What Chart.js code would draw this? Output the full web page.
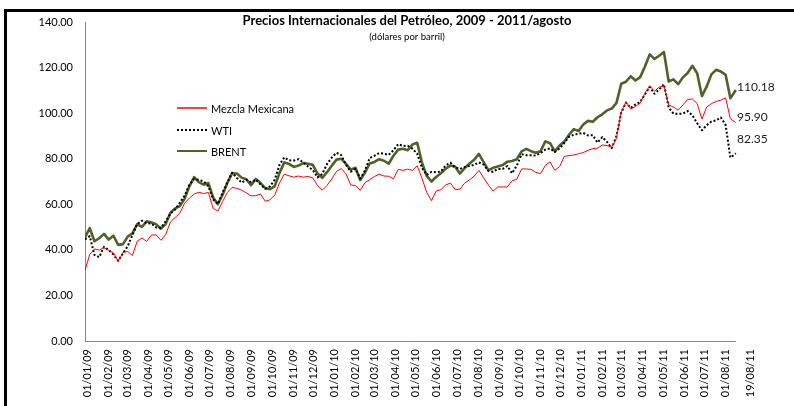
<!DOCTYPE html>
<html lang="es">
<head>
  <meta charset="UTF-8">
  <title>Precios Internacionales del Petróleo</title>
  <script src="https://cdn.jsdelivr.net/npm/chart.js"></script>
  <style>
    body {
      margin: 0;
      background: #ffffff;
      overflow: hidden;
    }
    .wrap {
      position: relative;
      width: 794px;
      height: 406px;
    }
    canvas {
      position: absolute;
      left: 0;
      top: 0;
    }
    /* black frame edges on top and left, as in the original */
    .edge-top {
      position: absolute;
      left: 4px;
      top: 9px;
      width: 790px;
      height: 3px;
      background: #000;
    }
    .edge-left {
      position: absolute;
      left: 4px;
      top: 9px;
      width: 3px;
      height: 397px;
      background: #000;
    }
  </style>
</head>
<body>
  <div class="wrap">
    <canvas id="chart" width="794" height="406"></canvas>
    <div class="edge-top"></div>
    <div class="edge-left"></div>
  </div>

  <script>
    // days since 01/01/09, one point a week (last one is 19/08/11)
    const dias = [0,7,14,21,28,35,42,49,56,63,70,77,84,91,98,105,112,119,126,133,
      140,147,154,161,168,175,182,189,196,203,210,217,224,231,238,245,252,259,266,273,
      280,287,294,301,308,315,322,329,336,343,350,357,364,371,378,385,392,399,406,413,
      420,427,434,441,448,455,462,469,476,483,490,497,504,511,518,525,532,539,546,553,
      560,567,574,581,588,595,602,609,616,623,630,637,644,651,658,665,672,679,686,693,
      700,707,714,721,728,735,742,749,756,763,770,777,784,791,798,805,812,819,826,833,
      840,847,854,861,868,875,882,889,896,903,910,917,924,931,938,945,952,960];

    const mezcla = [31,38,40.4,39.9,41,39.8,38.7,35,38.8,39.3,
      37.5,43.8,45.2,43.7,46.5,46.6,44.2,46.7,52.2,54.2,
      56.2,60.5,62.7,64.5,65.3,64.7,65.2,58.2,57,61.2,
      65.2,67.4,67,66.2,65,63.7,63.8,64.5,61.3,62,
      64.1,69.4,73.2,72.5,71.9,72.4,71.9,72.2,71.6,68.3,
      66.2,68.3,71.1,74.4,75.7,73.4,68.5,68.2,66.1,69.5,
      70.8,72.2,73.2,72.4,72.3,71.2,75.3,74.9,75.4,74.9,
      76.9,71.5,65.3,61.6,65.8,66.4,68.5,69.3,66.5,66.6,
      69.3,70.7,72.3,74.9,71.6,68.5,65.8,67.6,67.6,67.6,
      70.3,71,75.5,75.5,75.3,74,73.5,77,78.6,74.9,
      76.5,81,81.4,81.6,82.2,82.7,83.7,84.4,84.6,86,
      85.8,85.1,89,100.6,105,101.8,102.9,104.4,108.8,112,
      109.6,111.4,112,103.6,102.7,101.3,103.6,106,106.2,104.2,
      97.4,102.6,104.2,105.1,105.7,106.7,97.5,95.9];

    const wti = [44.6,46,37.8,36.8,41.3,39.9,37.9,35.2,38.5,41.6,
      46.5,51.3,52.8,51.7,51.5,49.8,49.7,52.5,55.9,57.7,
      60.7,63.8,68.7,71.1,70.7,70.1,67.9,62.2,60.1,65.2,
      69.6,73.9,71.6,69.5,70.7,69.7,70.8,68.7,66.8,67.9,
      70.9,77.4,80.6,79.3,79.2,79.8,78.3,76.6,75,71.8,
      73.3,77.7,80.5,82.6,81.6,77.3,74.3,75.6,71.3,74.8,
      80.3,81.3,82.5,82.2,81.7,83.7,86.4,85.6,85.7,84.4,
      82.2,76,72.9,74.2,74.1,74.4,77.1,78.2,76.3,75.5,
      76.3,76.8,77.3,78.4,77.4,74.6,74.3,75.5,75.5,76.8,
      73.6,77,82,81.5,81.5,81.4,82.5,84,84.5,83,
      84.5,86.9,89.6,90.5,91,91.3,90.2,90.3,87.1,89.5,
      87.4,84.6,90,100.2,104.6,102.3,103.8,104.9,108.3,111.5,
      108.5,110.4,112.7,102.5,99.8,99.7,99.8,100.9,99,95.6,
      92.5,94.7,96.3,96.8,98.1,94.8,80.5,82.35];

    const brent = [45.5,49.5,43.8,45.1,47,44.5,46.2,42.2,42.5,45.8,
      47.3,51.3,50.1,52.5,52,51.2,49.3,51.3,56.3,58.2,
      59.2,62.5,67.9,71.9,69.7,68.6,69.3,63,60,64.2,
      69.4,73.6,73.5,71.7,71,68.4,71.1,69.3,67.1,66.6,
      68,73.8,78.4,77.7,76.4,77,78.1,77.8,77.3,73.5,
      71.6,74.1,76.9,79.6,80,77.7,75.2,76,70.6,73.9,
      77.9,78.6,79.8,79.1,77.8,81.3,84,84.4,83.7,86.2,
      87,78.4,72.5,70,72,73.6,75.6,77,76.5,73.5,
      75.9,77.8,79.5,82.1,78.5,75,76,76.6,77.2,78.7,
      79,79.8,83.2,84.3,83.3,82.6,83.3,87.6,86.8,83.2,
      85.8,87.5,90.5,93,92.2,95,96.6,96.2,98.2,99.5,
      101.2,102,104.5,112.9,113.8,116.2,114.3,115.8,120.5,125.8,
      123.8,125.2,126.8,113.9,114.8,112.7,115.7,117.6,120.8,117.5,
      107.5,111.6,117,119,118.3,116.8,106.5,110.18];

    // axis labels (first of every month + last day)
    const tickDias = [0,31,59,90,120,151,181,212,243,273,304,334,
      365,396,424,455,485,516,546,577,608,638,669,699,
      730,761,789,820,850,881,911,942,960];
    const tickLabels = ['01/01/09','01/02/09','01/03/09','01/04/09','01/05/09','01/06/09',
      '01/07/09','01/08/09','01/09/09','01/10/09','01/11/09','01/12/09',
      '01/01/10','01/02/10','01/03/10','01/04/10','01/05/10','01/06/10',
      '01/07/10','01/08/10','01/09/10','01/10/10','01/11/10','01/12/10',
      '01/01/11','01/02/11','01/03/11','01/04/11','01/05/11','01/06/11',
      '01/07/11','01/08/11','19/08/11'];

    const FONT = 'Lato, "Open Sans", sans-serif';
    const LAST_DAY = dias[dias.length - 1];

    function toPoints(values) {
      return values.map((v, i) => ({ x: dias[i], y: v }));
    }

    // title, legend, x axis line and last-value labels
    const extras = {
      id: 'extras',
      afterDraw(chart) {
        const ctx = chart.ctx;
        const x = chart.scales.x;
        const y = chart.scales.y;
        const area = chart.chartArea;
        ctx.save();

        // x axis line stops at the last data day, like the original
        ctx.beginPath();
        ctx.strokeStyle = '#868686';
        ctx.lineWidth = 1;
        ctx.moveTo(area.left, Math.round(area.bottom) + 0.5);
        ctx.lineTo(x.getPixelForValue(LAST_DAY), Math.round(area.bottom) + 0.5);
        ctx.stroke();

        ctx.fillStyle = '#000';
        ctx.textAlign = 'center';
        ctx.textBaseline = 'middle';
        ctx.font = 'bold 13px ' + FONT;
        ctx.fillText('Precios Internacionales del Petróleo, 2009 - 2011/agosto', 407, 21);
        ctx.font = '9.5px ' + FONT;
        ctx.fillText('(dólares por barril)', 407, 37);

        // legend
        const rows = [108, 130, 151];
        ctx.textAlign = 'left';
        ctx.font = '11px ' + FONT;
        chart.data.datasets.forEach((ds, i) => {
          ctx.beginPath();
          ctx.strokeStyle = ds.borderColor;
          ctx.lineWidth = ds.legendWidth;
          ctx.setLineDash(ds.borderDash || []);
          ctx.moveTo(177, rows[i]);
          ctx.lineTo(207, rows[i]);
          ctx.stroke();
          ctx.setLineDash([]);
          ctx.fillStyle = '#000';
          ctx.fillText(ds.label, 211, rows[i] + 1);
        });

        // value of the last point of each series
        ctx.font = '12px ' + FONT;
        ctx.fillStyle = '#1a1a1a';
        chart.data.datasets.forEach(ds => {
          const last = ds.data[ds.data.length - 1].y;
          ctx.fillText(last.toFixed(2), 737, y.getPixelForValue(last) + ds.labelShift);
        });
        ctx.restore();
      }
    };

    new Chart(document.getElementById('chart'), {
      type: 'line',
      data: {
        datasets: [
          { label: 'Mezcla Mexicana', data: toPoints(mezcla), borderColor: '#ff0000',
            borderWidth: 1, legendWidth: 1.5, labelShift: -5 },
          { label: 'WTI', data: toPoints(wti), borderColor: '#000000',
            borderWidth: 2, borderDash: [2, 2], legendWidth: 2, labelShift: -14 },
          { label: 'BRENT', data: toPoints(brent), borderColor: '#4f6228',
            borderWidth: 2.6, legendWidth: 2, labelShift: -3 }
        ]
      },
      options: {
        responsive: false,
        animation: false,
        events: [],
        elements: {
          point: { radius: 0 },
          line: { tension: 0, borderCapStyle: 'butt', borderJoinStyle: 'round' }
        },
        layout: { padding: { top: 22, right: 46, bottom: 0, left: 0 } },
        plugins: {
          legend: { display: false },
          tooltip: { enabled: false },
          title: { display: false }
        },
        scales: {
          x: {
            type: 'linear',
            min: 0,
            max: 978,
            grid: { display: false, drawTicks: false },
            border: { display: false },
            afterBuildTicks(scale) {
              // last label sits a little past the end of the line, as in the original
              scale.ticks = tickDias.map((v, i) =>
                ({ value: i === tickDias.length - 1 ? scale.max : v }));
            },
            afterFit(scale) {
              scale.height = 65;
            },
            ticks: {
              autoSkip: false,
              minRotation: 90,
              maxRotation: 90,
              padding: 8,
              labelOffset: 2,
              color: '#000',
              font: { family: FONT, size: 11 },
              callback: (value, index) => tickLabels[index]
            }
          },
          y: {
            min: 0,
            max: 140,
            grid: { display: false, drawTicks: false },
            border: { display: true, color: '#868686', width: 1 },
            afterFit(scale) {
              scale.width = 85;
            },
            ticks: {
              stepSize: 20,
              padding: 12,
              color: '#000',
              font: { family: FONT, size: 11 },
              callback: v => v.toFixed(2)
            }
          }
        }
      },
      plugins: [extras]
    });
  </script>
</body>
</html>
